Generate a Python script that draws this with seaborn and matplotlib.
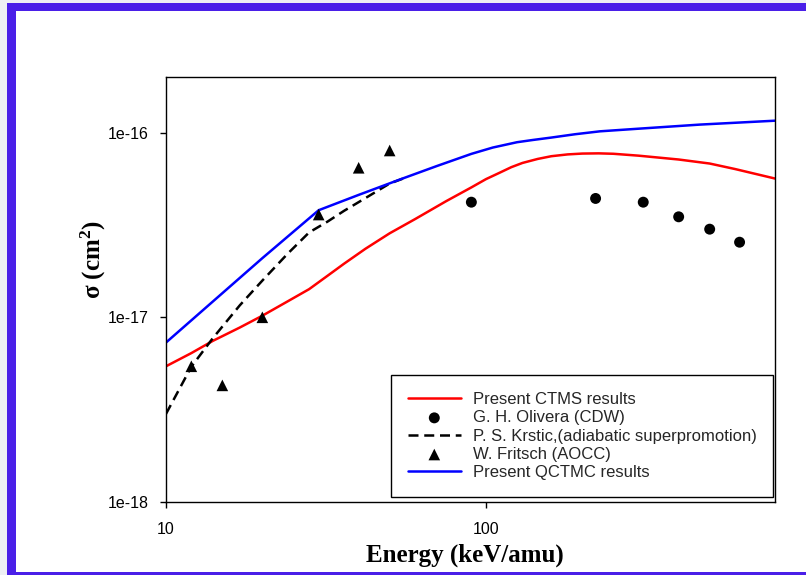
import numpy as np
import pandas as pd
import matplotlib
matplotlib.use("Agg")
import matplotlib.pyplot as plt
import matplotlib.ticker as mticker
from matplotlib.patches import Rectangle
import seaborn as sns

# Energy (keV/amu) and cross sections (cm^2)
ctms_E = [10, 12, 14, 17, 20, 24, 28, 32, 36, 42, 50, 60, 75, 90, 100, 110, 120,
          130, 145, 160, 180, 200, 225, 250, 300, 400, 500, 600, 800]
ctms_sigma = [5.43e-18, 6.4e-18, 7.45e-18, 8.8e-18, 1.02e-17, 1.22e-17, 1.42e-17,
              1.68e-17, 1.95e-17, 2.35e-17, 2.85e-17, 3.4e-17, 4.25e-17, 5.05e-17,
              5.6e-17, 6.05e-17, 6.5e-17, 6.85e-17, 7.2e-17, 7.45e-17, 7.62e-17,
              7.7e-17, 7.72e-17, 7.68e-17, 7.5e-17, 7.15e-17, 6.8e-17, 6.35e-17,
              5.64e-17]

olivera_E = [90, 220, 310, 400, 500, 620]
olivera_sigma = [4.2e-17, 4.4e-17, 4.2e-17, 3.5e-17, 3.0e-17, 2.55e-17]

krstic_E = [10, 12, 14, 17, 20, 24, 28, 32, 36, 42, 50, 56]
krstic_sigma = [3.0e-18, 5.4e-18, 7.7e-18, 1.16e-17, 1.58e-17, 2.21e-17, 2.88e-17,
                3.3e-17, 3.77e-17, 4.42e-17, 5.3e-17, 5.7e-17]

fritsch_E = [12, 15, 20, 30, 40, 50]
fritsch_sigma = [5.43e-18, 4.28e-18, 1.0e-17, 3.6e-17, 6.45e-17, 8.0e-17]

qctmc_E = [10, 20, 30, 40, 55, 70, 90, 105, 125, 140, 160, 190, 227, 300, 466, 800]
qctmc_sigma = [7.3e-18, 2.09e-17, 3.8e-17, 4.6e-17, 5.65e-17, 6.58e-17, 7.67e-17,
               8.3e-17, 8.87e-17, 9.12e-17, 9.4e-17, 9.8e-17, 1.016e-16, 1.05e-16,
               1.105e-16, 1.16e-16]

labels = ["Present CTMS results", "G. H. Olivera (CDW)",
          "P. S. Krstic,(adiabatic superpromotion)", "W. Fritsch (AOCC)",
          "Present QCTMC results"]

sns.set_theme(style="ticks")
plt.rcParams["font.family"] = ["Liberation Sans", "DejaVu Sans"]
plt.rcParams["mathtext.fontset"] = "custom"
plt.rcParams["mathtext.rm"] = "Liberation Serif:bold"
plt.rcParams["mathtext.bf"] = "Liberation Serif:bold"
plt.rcParams["mathtext.it"] = "Liberation Serif:bold"

W, H = 806, 575
fig = plt.figure(figsize=(W / 100, H / 100), dpi=100)
fig.patch.set_facecolor("#eef0f4")

# page frame: blue band with white page inside
fig.add_artist(Rectangle((7 / W, 0), 1, 1 - 3 / H, transform=fig.transFigure,
                         facecolor="#4a1fe8", edgecolor="none", zorder=-10))
fig.add_artist(Rectangle((16 / W, 3 / H), 1, 1 - 14 / H, transform=fig.transFigure,
                         facecolor="white", edgecolor="none", zorder=-9))

ax = fig.add_axes([166 / W, 1 - 502 / H, (775 - 166) / W, (502 - 77) / H])
ax.set_facecolor("white")

ctms = pd.DataFrame({"E": ctms_E, "sigma": ctms_sigma})
olivera = pd.DataFrame({"E": olivera_E, "sigma": olivera_sigma})
krstic = pd.DataFrame({"E": krstic_E, "sigma": krstic_sigma})
fritsch = pd.DataFrame({"E": fritsch_E, "sigma": fritsch_sigma})
qctmc = pd.DataFrame({"E": qctmc_E, "sigma": qctmc_sigma})

LW = 1.8
sns.lineplot(data=ctms, x="E", y="sigma", ax=ax, color="#ff0000", linewidth=LW,
             label=labels[0], sort=False)
sns.scatterplot(data=olivera, x="E", y="sigma", ax=ax, color="black", marker="o",
                s=62, edgecolor="none", label=labels[1], zorder=5)
sns.lineplot(data=krstic, x="E", y="sigma", ax=ax, color="black", linewidth=LW,
             label=labels[2], sort=False)
ax.lines[-1].set_dashes((4.0, 2.3))
sns.scatterplot(data=fritsch, x="E", y="sigma", ax=ax, color="black", marker="^",
                s=70, edgecolor="none", label=labels[3], zorder=5)
sns.lineplot(data=qctmc, x="E", y="sigma", ax=ax, color="#0000ff", linewidth=LW,
             label=labels[4], sort=False)

ax.set_xscale("log")
ax.set_yscale("log")
ax.set_xlim(10, 800)
ax.set_ylim(1e-18, 2e-16)

ax.xaxis.set_major_locator(mticker.FixedLocator([10, 100]))
ax.yaxis.set_major_locator(mticker.FixedLocator([1e-18, 1e-17, 1e-16]))
ax.xaxis.set_minor_locator(mticker.NullLocator())
ax.yaxis.set_minor_locator(mticker.NullLocator())
ax.xaxis.set_major_formatter(mticker.FuncFormatter(lambda v, p: f"{v:g}"))
ax.yaxis.set_major_formatter(
    mticker.FuncFormatter(lambda v, p: f"1e{int(round(np.log10(v)))}"))

ax.tick_params(axis="both", which="major", direction="out", length=4.5, width=1,
               color="black", labelsize=11.5, labelcolor="black")
ax.tick_params(axis="x", pad=10)
ax.tick_params(axis="y", pad=8)
for sp in ax.spines.values():
    sp.set_visible(True)
    sp.set_color("black")
    sp.set_linewidth(1.0)

ax.set_xlabel("Energy (keV/amu)", fontsize=18, fontweight="bold",
              family="Liberation Serif", color="black")
ax.set_ylabel(r"σ (cm$^{2}$)", fontsize=18, fontweight="bold",
              family="Liberation Serif", color="black")
ax.xaxis.set_label_coords(0.491, -0.098)
ax.yaxis.set_label_coords(-0.095, 0.57)

leg = ax.legend(loc="lower right", bbox_to_anchor=(0.997, 0.012), frameon=True,
                fancybox=False, edgecolor="black", framealpha=1,
                prop={"family": "Liberation Sans", "size": 12},
                handlelength=3.2, handletextpad=0.7, labelspacing=0.2,
                borderpad=1.0, borderaxespad=0)
leg.get_frame().set_linewidth(1.0)

fig.savefig("out.png", dpi=100, facecolor=fig.get_facecolor())
